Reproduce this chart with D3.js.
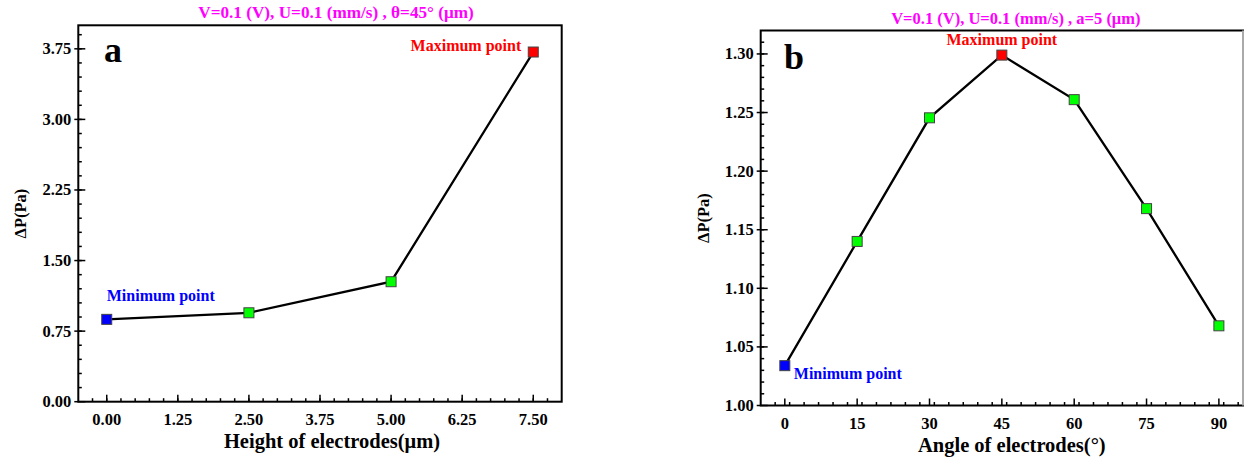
<!DOCTYPE html>
<html><head><meta charset="utf-8">
<script src="https://cdn.jsdelivr.net/npm/d3@7"></script>
<style>body{margin:0;background:#fff}svg{display:block}text{font-family:"Liberation Serif","Times New Roman",serif;font-weight:bold}</style>
</head><body><svg id="c" width="1244" height="458"></svg>
<script>
// Panel a data
const heightX = [0, 2.5, 5, 7.5];
const heightP = [0.875, 0.945, 1.275, 3.716];
const heightTicks = [0, 1.25, 2.5, 3.75, 5, 6.25, 7.5];
const heightYTicks = [0, 0.75, 1.5, 2.25, 3.0, 3.75];
// Panel b data
const angleX = [0, 15, 30, 45, 60, 75, 90];
const angleP = [1.034, 1.140, 1.2455, 1.299, 1.261, 1.168, 1.068];
const angleTicks = [0, 15, 30, 45, 60, 75, 90];
const angleYTicks = [1.00, 1.05, 1.10, 1.15, 1.20, 1.25, 1.30];

const svg = d3.select("#c");

function panel(o) {
  const g = svg.append("g");
  const x = d3.scaleLinear().domain(o.xd).range([o.l, o.r]);
  const y = d3.scaleLinear().domain(o.yd).range([o.b, o.t]);
  const xm = d3.range(o.xd[0], o.xd[1] + 1e-9, o.xMinor).filter(v => v > o.xd[0] + 1e-9 && v < o.xd[1] - 1e-9);
  const ym = d3.range(o.yd[0], o.yd[1] + 1e-9, o.yMinor).filter(v => v > o.yd[0] + 1e-9 && v < o.yd[1] - 1e-9);
  g.selectAll(".xm").data(xm).join("line")
    .attr("x1", d => x(d)).attr("x2", d => x(d)).attr("y1", o.b).attr("y2", o.b - 3.5)
    .attr("stroke", "#000").attr("stroke-width", 1.5);
  g.selectAll(".ym").data(ym).join("line")
    .attr("y1", d => y(d)).attr("y2", d => y(d)).attr("x1", o.l).attr("x2", o.l + 3.5)
    .attr("stroke", "#000").attr("stroke-width", 1.5);
  g.selectAll(".xM").data(o.xTicks).join("line")
    .attr("x1", d => x(d)).attr("x2", d => x(d)).attr("y1", o.b).attr("y2", o.b - 7)
    .attr("stroke", "#000").attr("stroke-width", 1.5);
  g.selectAll(".yM").data(o.yTicks).join("line")
    .attr("y1", d => y(d)).attr("y2", d => y(d)).attr("x1", o.l - 4).attr("x2", o.l + 7)
    .attr("stroke", "#000").attr("stroke-width", 1.5);
  g.selectAll(".xl").data(o.xTicks).join("text")
    .attr("x", d => x(d)).attr("y", o.b + 23).attr("text-anchor", "middle")
    .attr("font-size", 16.5).text(o.xFmt);
  g.selectAll(".yl").data(o.yTicks).join("text")
    .attr("x", o.l - 7).attr("y", d => y(d) + 5.5).attr("text-anchor", "end")
    .attr("font-size", 16.5).text(o.yFmt);
  g.append("rect").attr("x", o.l).attr("y", o.t).attr("width", o.r - o.l).attr("height", o.b - o.t)
    .attr("fill", "none").attr("stroke", "#000").attr("stroke-width", 2);
  if (o.rightGray) {
    g.append("line").attr("x1", o.r).attr("x2", o.r).attr("y1", o.t).attr("y2", o.b)
      .attr("stroke", "#aaa").attr("stroke-width", 2);
  }
  g.append("text").attr("x", (o.l + o.r) / 2 + o.titleShift).attr("y", o.b + 46).attr("text-anchor", "middle")
    .attr("font-size", 20.5).text(o.xTitle);
  g.append("text").attr("transform", `translate(${o.yTitleX},${(o.t + o.b) / 2}) rotate(-90)`)
    .attr("text-anchor", "middle").attr("font-size", 16.5).text("ΔP(Pa)");
  g.append("text").attr("x", (o.l + o.r) / 2 + o.titleShift + 4).attr("y", o.t - 7).attr("text-anchor", "middle")
    .attr("font-size", o.titleSize).attr("fill", "#ff00ff").text(o.title);
  g.append("text").attr("x", o.letterX).attr("y", o.letterY).attr("font-size", 36).text(o.letter);
  const pts = o.xs.map((v, i) => [v, o.ys[i]]);
  g.append("path").attr("d", d3.line().x(d => x(d[0])).y(d => y(d[1]))(pts))
    .attr("fill", "none").attr("stroke", "#000").attr("stroke-width", 2.3);
  const iMin = d3.minIndex(o.ys), iMax = d3.maxIndex(o.ys);
  g.selectAll(".pt").data(pts).join("rect")
    .attr("x", d => x(d[0]) - 5).attr("y", d => y(d[1]) - 5).attr("width", 10).attr("height", 10)
    .attr("fill", (d, i) => i === iMin ? "#0000ff" : i === iMax ? "#ff0000" : "#00ff00")
    .attr("stroke", "#444").attr("stroke-width", 1);
  const mx = x(o.xs[iMax]), my = y(o.ys[iMax]);
  const nx = x(o.xs[iMin]), ny = y(o.ys[iMin]);
  g.append("text").attr("x", mx + o.maxDx).attr("y", my + o.maxDy).attr("text-anchor", o.maxAnchor)
    .attr("font-size", 16).attr("fill", "#ff0000").text("Maximum point");
  g.append("text").attr("x", nx + o.minDx).attr("y", ny + o.minDy).attr("text-anchor", "start")
    .attr("font-size", 16).attr("fill", "#0000ff").text("Minimum point");
}

panel({
  l: 78.3, r: 561.7, t: 25.3, b: 401.7,
  xd: [-0.5, 8.0], yd: [0, 4.0], xMinor: 0.25, yMinor: 0.15,
  xTicks: heightTicks, yTicks: heightYTicks,
  xFmt: d3.format(".2f"), yFmt: d3.format(".2f"),
  xs: heightX, ys: heightP,
  xTitle: "Height of electrodes(μm)", yTitleX: 26, titleShift: 12, titleSize: 17.2,
  title: "V=0.1 (V), U=0.1 (mm/s) , θ=45° (μm)",
  letter: "a", letterX: 104, letterY: 62,
  maxDx: -12, maxDy: -1, maxAnchor: "end",
  minDx: 0, minDy: -18
});

panel({
  l: 760.7, r: 1243, t: 30.5, b: 405.5,
  xd: [-5, 95], yd: [1.00, 1.32], xMinor: 3, yMinor: 0.01,
  xTicks: angleTicks, yTicks: angleYTicks,
  xFmt: d3.format("d"), yFmt: d3.format(".2f"),
  xs: angleX, ys: angleP,
  xTitle: "Angle of electrodes(°)", yTitleX: 709, titleShift: 10, titleSize: 16.5,
  title: "V=0.1 (V), U=0.1 (mm/s) , a=5 (μm)",
  letter: "b", letterX: 784, letterY: 69,
  maxDx: 0, maxDy: -10, maxAnchor: "middle",
  minDx: 9, minDy: 13, rightGray: true
});
</script></body></html>
